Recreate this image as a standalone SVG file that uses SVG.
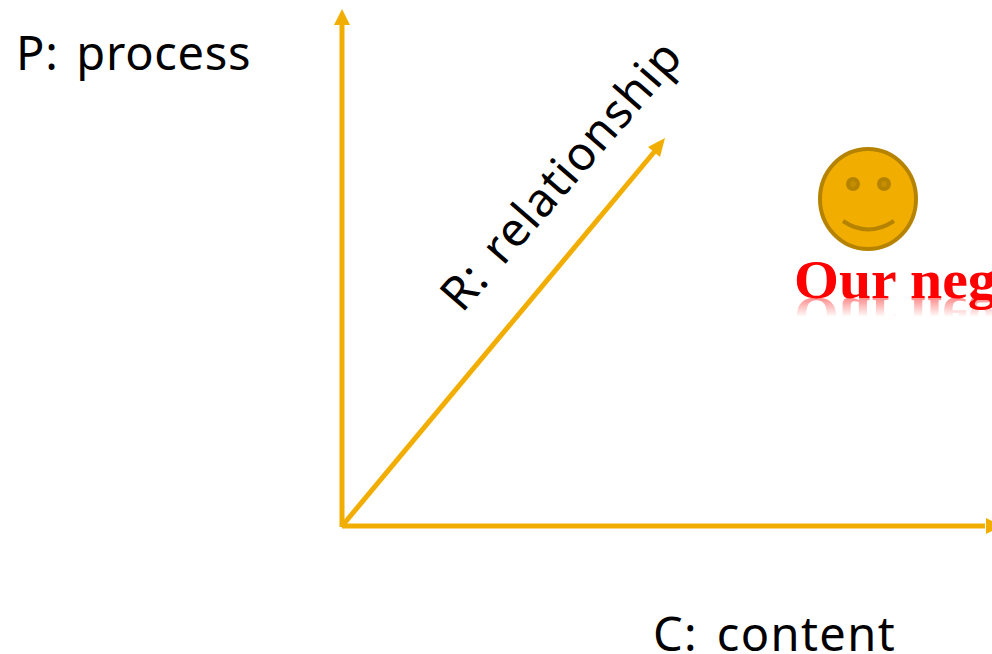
<svg xmlns="http://www.w3.org/2000/svg" width="992" height="654" viewBox="0 0 992 654">
<style>
.l{font-family:"Noto Sans",sans-serif;font-size:47px;fill:#000;letter-spacing:.7px;word-spacing:5px}
.a{stroke:#f2ae00;stroke-width:5;fill:none}
.h{fill:#f2ae00}
.n{font-family:"Liberation Serif",serif;font-weight:bold;font-size:54px;fill:#f00}
.e{fill:#b58300}
.i{fill:#c48e00}
</style>
<defs>
<linearGradient id="fade" gradientUnits="userSpaceOnUse" x1="0" y1="298" x2="0" y2="317">
<stop offset="0" stop-color="#fff" stop-opacity=".45"/><stop offset="1" stop-color="#fff" stop-opacity="0"/>
</linearGradient>
<mask id="m" maskUnits="userSpaceOnUse" x="780" y="298" width="212" height="30"><rect x="780" y="298" width="212" height="30" fill="url(#fade)"/></mask>
</defs>
<rect width="992" height="654" fill="#fff"/>
<g id="connectors">
<path class="a" d="M342 527V22"/><path class="h" d="M342 9L350 25H334Z"/>
<path class="a" d="M342 526H985"/><path class="h" d="M986 518L992 521V531L986 534Z"/>
<path class="a" d="M342 526L655 151"/><path class="h" d="M665 138L660 157L648 147Z"/>
</g>
<g id="label-p"><text class="l" x="16" y="70">P: process</text></g>
<g id="label-r"><text class="l" transform="translate(462 314) rotate(-49)" style="letter-spacing:1.2px">R: relationship</text></g>
<g id="label-c"><text class="l" x="653" y="651" style="letter-spacing:1.4px">C: content</text></g>
<g id="smiley">
<ellipse cx="868" cy="199" rx="48" ry="50" fill="#f2ae00" stroke="#b58300" stroke-width="4"/>
<circle class="e" cx="853" cy="184" r="7"/><circle class="e" cx="884" cy="184" r="7"/>
<circle class="i" cx="853" cy="184" r="3"/><circle class="i" cx="884" cy="184" r="3"/>
<path d="M843 221Q868 238 894 221" fill="none" stroke="#b58300" stroke-width="4"/>
</g>
<g id="caption">
<text class="n" transform="translate(794 298) scale(1.07 1)">Our neg</text>
<g mask="url(#m)"><text class="n" transform="translate(794 298) scale(1.07 -1)" aria-hidden="true">Our neg</text></g>
</g>
</svg>
